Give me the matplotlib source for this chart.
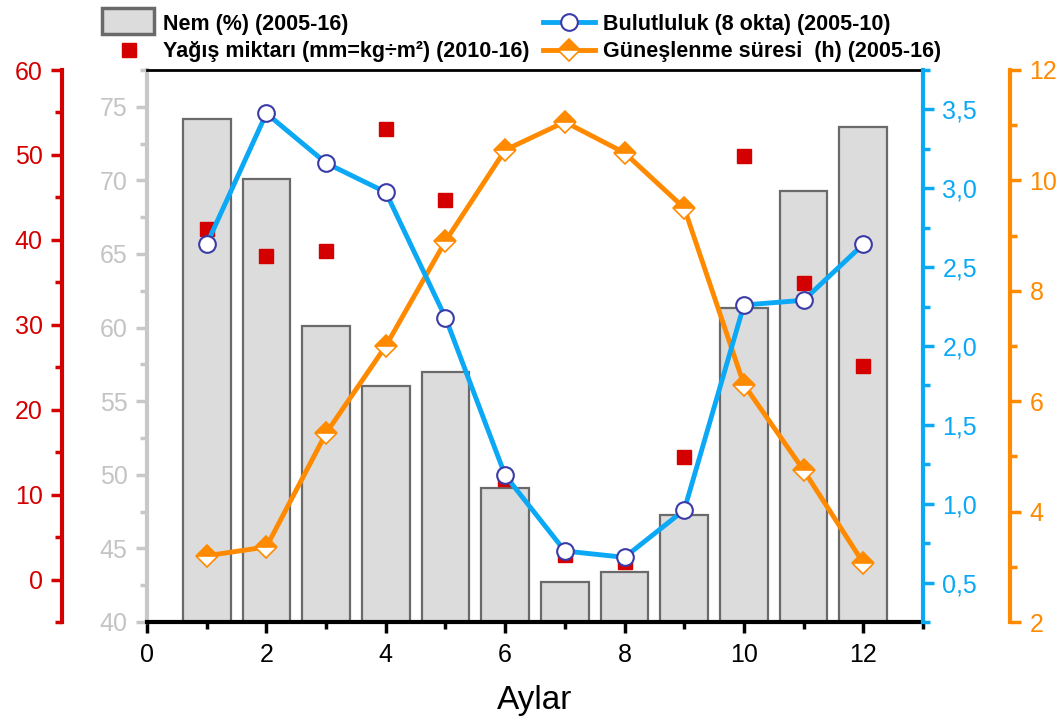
import matplotlib
matplotlib.use('Agg')
import matplotlib.pyplot as plt
import matplotlib.patches as mpatches
from matplotlib.lines import Line2D
from matplotlib.ticker import MultipleLocator, FuncFormatter
from matplotlib.legend_handler import HandlerPatch

months = [1, 2, 3, 4, 5, 6, 7, 8, 9, 10, 11, 12]
humidity = [74.2, 70.1, 60.1, 56.0, 57.0, 49.1, 42.7, 43.4, 47.3, 61.3, 69.3, 73.6]
precip = [41.3, 38.1, 38.7, 53.0, 44.7, 11.8, 2.9, 2.1, 14.4, 49.9, 34.9, 25.1]
cloud = [2.645, 3.475, 3.16, 2.975, 2.18, 1.18, 0.70, 0.66, 0.96, 2.26, 2.29, 2.645]
sunshine = [3.2, 3.36, 5.42, 7.0, 8.9, 10.55, 11.06, 10.5, 9.5, 6.3, 4.75, 3.07]

labels = ["Nem (%) (2005-16)",
          "Yağış miktarı (mm=kg÷m²) (2010-16)",
          "Bulutluluk (8 okta) (2005-10)",
          "Güneşlenme süresi  (h) (2005-16)"]

plt.rcParams['font.family'] = ['Liberation Sans', 'DejaVu Sans']

RED = '#d40000'
GRAY = '#c8c8c8'
GRAYTXT = '#c4c4c4'
BLUE = '#0aa8f5'
ORANGE = '#ff8a00'
TS = 18

W, H = 1060, 720
fig = plt.figure(figsize=(W / 100, H / 100), dpi=100)
L, R, T, B = 147, 923, 70, 622
ax = fig.add_axes([L / W, (H - B) / H, (R - L) / W, (B - T) / H])

# bars (humidity)
ax.bar(months, humidity, width=0.8, color='#dcdcdc', edgecolor='#6a6a6a',
       linewidth=1.6, zorder=2)
ax.set_xlim(0, 13)
ax.set_ylim(40, 77.5)
ax.xaxis.set_major_locator(MultipleLocator(2))
ax.xaxis.set_minor_locator(MultipleLocator(1))
ax.yaxis.set_major_locator(MultipleLocator(5))
ax.yaxis.set_minor_locator(MultipleLocator(2.5))
ax.spines['left'].set_color(GRAY)
ax.spines['left'].set_linewidth(3)
ax.spines['right'].set_visible(False)
ax.spines['top'].set_linewidth(2)
ax.spines['bottom'].set_linewidth(3)
ax.tick_params(axis='y', which='major', colors=GRAY, labelcolor=GRAYTXT,
               length=8, width=2.5, labelsize=TS, pad=6)
ax.tick_params(axis='y', which='minor', colors=GRAY, length=5, width=2.5)
ax.tick_params(axis='x', which='major', length=8, width=2.5, labelsize=TS, pad=7)
ax.tick_params(axis='x', which='minor', length=5, width=2.5)
ax.set_xlabel('Aylar', fontsize=24, labelpad=13)

# precipitation axis (red, far left)
ax_red = ax.twinx()
ax_red.set_ylim(-5, 60)
for s in ['top', 'bottom', 'right']:
    ax_red.spines[s].set_visible(False)
ax_red.spines['left'].set_visible(True)
ax_red.spines['left'].set_position(('axes', -(L - 62) / (R - L)))
ax_red.spines['left'].set_color(RED)
ax_red.spines['left'].set_linewidth(3)
ax_red.yaxis.tick_left()
ax_red.yaxis.set_major_locator(MultipleLocator(10))
ax_red.yaxis.set_minor_locator(MultipleLocator(5))
ax_red.tick_params(axis='y', which='major', colors=RED, labelcolor=RED,
                   length=8, width=2.5, labelsize=TS, pad=6)
ax_red.tick_params(axis='y', which='minor', colors=RED, length=5, width=2.5)
ax_red.plot(months, precip, linestyle='none', marker='s', color=RED, ms=10,
            zorder=3)

# sunshine axis (orange, far right)
ax_or = ax.twinx()
ax_or.set_ylim(2, 12)
for s in ['top', 'bottom', 'left']:
    ax_or.spines[s].set_visible(False)
ax_or.spines['right'].set_position(('axes', 1 + (1010 - R) / (R - L)))
ax_or.spines['right'].set_color(ORANGE)
ax_or.spines['right'].set_linewidth(3)
ax_or.yaxis.set_major_locator(MultipleLocator(2))
ax_or.yaxis.set_minor_locator(MultipleLocator(1))
ax_or.tick_params(axis='y', which='major', colors=ORANGE, labelcolor=ORANGE,
                  length=8, width=2.5, labelsize=TS, pad=6)
ax_or.tick_params(axis='y', which='minor', colors=ORANGE, length=5, width=2.5)
ax_or.plot(months, sunshine, '-', color=ORANGE, lw=3.5, marker='D', ms=11,
           fillstyle='top', markerfacecolor=ORANGE, markerfacecoloralt='white',
           markeredgecolor=ORANGE, markeredgewidth=1.2, zorder=3)

# cloudiness axis (blue, inner right)
ax_bl = ax.twinx()
ax_bl.set_ylim(0.25, 3.75)
for s in ['top', 'bottom', 'left']:
    ax_bl.spines[s].set_visible(False)
ax_bl.spines['right'].set_color(BLUE)
ax_bl.spines['right'].set_linewidth(3)
ax_bl.yaxis.set_major_locator(MultipleLocator(0.5))
ax_bl.yaxis.set_minor_locator(MultipleLocator(0.25))
ax_bl.yaxis.set_major_formatter(FuncFormatter(lambda v, p: f"{v:.1f}".replace('.', ',')))
ax_bl.tick_params(axis='y', which='major', colors=BLUE, labelcolor=BLUE,
                  length=8, width=2.5, labelsize=TS, pad=6)
ax_bl.tick_params(axis='y', which='minor', colors=BLUE, length=5, width=2.5)
ax_bl.plot(months, cloud, '-', color=BLUE, lw=3.5, marker='o', ms=12,
           markerfacecolor='white', markeredgecolor='#3b3ba8',
           markeredgewidth=1.5, zorder=3)

# legend
def make_box(legend, orig_handle, xdescent, ydescent, width, height, fontsize):
    return mpatches.Rectangle((-xdescent - 0.02 * width, -ydescent - 0.3 * height),
                              width * 0.98, height * 1.75)

h_nem = mpatches.Patch(facecolor='#dcdcdc', edgecolor='#6a6a6a', linewidth=2.5)
h_pre = Line2D([], [], linestyle='none', marker='s', color=RED, ms=10)
h_bul = Line2D([], [], color=BLUE, lw=3.5, marker='o', ms=12,
               markerfacecolor='white', markeredgecolor='#3b3ba8',
               markeredgewidth=1.5)
h_gun = Line2D([], [], color=ORANGE, lw=3.5, marker='D', ms=11,
               fillstyle='top', markerfacecolor=ORANGE,
               markerfacecoloralt='white', markeredgecolor=ORANGE,
               markeredgewidth=1.2)
fig.legend([h_nem, h_pre, h_bul, h_gun], labels, ncol=2,
           loc='upper left', bbox_to_anchor=(90 / W, 1.0 - 1 / H),
           frameon=False, prop={'size': 15.5, 'weight': 'bold'},
           handlelength=2.45, handletextpad=0.35, columnspacing=0.6,
           labelspacing=0.3, numpoints=1, borderaxespad=0.2,
           handler_map={mpatches.Patch: HandlerPatch(patch_func=make_box)})

fig.savefig('out.png', dpi=100)
